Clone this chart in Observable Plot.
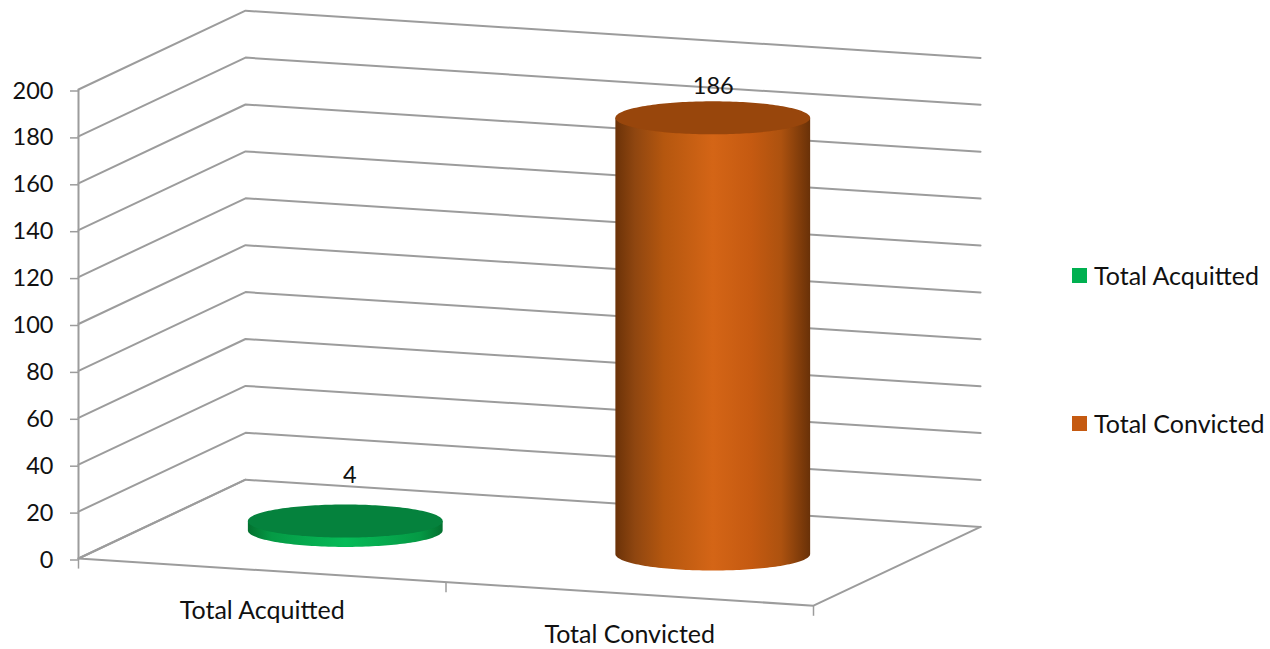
<!DOCTYPE html>
<html>
<head>
<meta charset="utf-8">
<script src="https://cdn.jsdelivr.net/npm/d3@7"></script>
<script src="https://cdn.jsdelivr.net/npm/@observablehq/plot@0.6"></script>
<style>
  html, body { margin: 0; padding: 0; background: #fff; overflow: hidden; }
  #chart { position: relative; width: 1270px; height: 649px; font-family: Lato, "Open Sans", sans-serif; color: #111; }
  #legend { position: absolute; left: 1072px; top: 0; }
  .item { position: absolute; left: 0; white-space: nowrap; display: flex; align-items: center; font-size: 25px; line-height: 30px; }
  .swatch { width: 15px; height: 15px; margin-right: 7px; flex: none; }
</style>
</head>
<body>
<div id="chart"></div>
<script>
// ---- Data ----
const categories = ["Total Acquitted", "Total Convicted"];
const values = [4, 186];
const yTicks = [0, 20, 40, 60, 80, 100, 120, 140, 160, 180, 200];
const swatchColors = ["#00b050", "#c55a11"];

// ---- Oblique projection of (category position, depth, value) on the two plot scales ----
const depthX = 0.4545;     // category units per unit of depth
const depthY = 33.6;       // value units per unit of depth
const skewY = 10.06;       // value units lost per category unit
const projX = (c, d) => c + d * depthX;
const projY = (c, d, v) => v - c * skewY + d * depthY;
const radiusX = 0.265, radiusY = 7.05;

// Wall gridlines
const gridRows = yTicks.flatMap(t => [[0, 0], [0, 1], [2, 1]].map(([c, d]) => ({t, c, d})));
// Floor outline
const floorRows = [[0, 1], [0, 0], [2, 0], [2, 1]].map(([c, d]) => ({c, d}));
// Category ticks on the front edge
const catTicks = [0, 1, 2];

// Cylinder outlines, one half-ellipse sweep per category
const angles = d3.range(0, 181, 2).map(a => a * Math.PI / 180);
const cylinders = categories.map((name, i) => {
  const cx = projX(i + 0.5, 0.5), base = projY(i + 0.5, 0.5, 0), top = projY(i + 0.5, 0.5, values[i]);
  return angles.map(t => ({
    name,
    x: cx + radiusX * Math.cos(t),
    bodyLow: base - radiusY * Math.sin(t),
    bodyHigh: top,
    capLow: top - radiusY * Math.sin(t),
    capHigh: top + radiusY * Math.sin(t)
  }));
});
const rows = categories.map((name, i) => ({
  name, value: values[i], x: projX(i + 0.5, 0.5), y: projY(i + 0.5, 0.5, values[i]) + radiusY
}));

function gradients() {
  const defs = d3.create("svg:defs");
  const add = (id, stops) => {
    const g = defs.append("linearGradient").attr("id", id).attr("x1", 0).attr("x2", 1).attr("y1", 0).attr("y2", 0);
    stops.forEach(([o, c]) => g.append("stop").attr("offset", o).attr("stop-color", c));
  };
  add("bodyOrange", [[0, "#6b3208"], [0.1, "#8f4610"], [0.25, "#b5570f"], [0.5, "#d46516"], [0.7, "#c55a11"], [0.85, "#ad520f"], [1, "#693108"]]);
  add("bodyGreen", [[0, "#03702f"], [0.12, "#059a45"], [0.5, "#06bb58"], [0.88, "#059a45"], [1, "#03702f"]]);
  return defs.node();
}

const gridColor = "#9c9c9c";
const gridWidth = 2;
const textColor = "#111";
const labelSize = 25;
const numberSize = 23.5;

const plot = Plot.plot({
  width: 1270,
  height: 649,
  marginLeft: 78,
  marginRight: 457,
  marginTop: 89,
  marginBottom: 91,
  style: {background: "#fff", fontFamily: "Lato, 'Open Sans', sans-serif", overflow: "visible"},
  x: {type: "linear", domain: [0, 2], axis: null},
  y: {type: "linear", domain: [0, 200], axis: null},
  marks: [
    gradients,
    Plot.line(gridRows, {x: r => projX(r.c, r.d), y: r => projY(r.c, r.d, r.t), z: "t", stroke: gridColor, strokeWidth: gridWidth}),
    Plot.line(floorRows, {x: r => projX(r.c, r.d), y: r => projY(r.c, r.d, 0), stroke: gridColor, strokeWidth: gridWidth}),
    Plot.link([0], {x1: 0, x2: 0, y1: 0, y2: 200, stroke: gridColor, strokeWidth: gridWidth}),
    Plot.link(catTicks, {x1: d => d, x2: d => d, y1: d => projY(d, 0, 0), y2: d => projY(d, 0, 0) - 4.3, stroke: gridColor, strokeWidth: 1.5}),
    Plot.axisY({ticks: yTicks, tickSize: 8, tickPadding: 17, stroke: gridColor, strokeWidth: 1.5, fill: textColor, fontSize: numberSize, tickFormat: d => String(d), label: null, dy: 1.5}),
    // Acquitted
    Plot.areaY(cylinders[0], {x: "x", y1: "bodyLow", y2: "bodyHigh", fill: "url(#bodyGreen)"}),
    Plot.areaY(cylinders[0], {x: "x", y1: "capLow", y2: "capHigh", fill: "#05823d"}),
    // Convicted
    Plot.areaY(cylinders[1], {x: "x", y1: "bodyLow", y2: "bodyHigh", fill: "url(#bodyOrange)"}),
    Plot.areaY(cylinders[1], {x: "x", y1: "capLow", y2: "capHigh", fill: "#98460c"}),
    // Value labels
    Plot.text(rows.filter(r => r.name === categories[0]), {x: "x", y: "y", text: r => String(r.value), dx: 4, dy: -30, fontSize: numberSize, fill: textColor}),
    Plot.text(rows.filter(r => r.name === categories[1]), {x: "x", y: "y", text: r => String(r.value), dy: -15, fontSize: numberSize, fill: textColor}),
    // Category labels
    Plot.text(categories, {x: (d, i) => i + 0.5, y: (d, i) => projY(i + 0.5, 0, 0), text: d => d, dy: 41, fontSize: labelSize, fill: textColor})
  ]
});

const chart = document.getElementById("chart");
chart.appendChild(plot);

const legend = document.createElement("div");
legend.id = "legend";
categories.forEach((name, i) => {
  const item = document.createElement("div");
  item.className = "item";
  item.style.top = (i === 0 ? 260 : 408) + "px";
  const sw = document.createElement("span");
  sw.className = "swatch";
  sw.style.background = swatchColors[i];
  const label = document.createElement("span");
  label.textContent = name;
  item.append(sw, label);
  legend.appendChild(item);
});
chart.appendChild(legend);
</script>
</body>
</html>
